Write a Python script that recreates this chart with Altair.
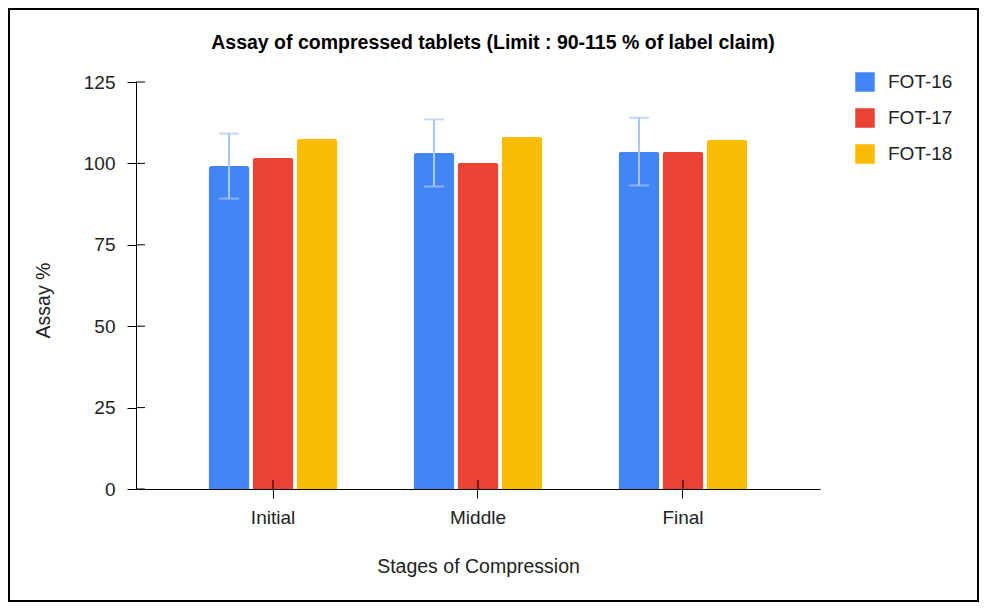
import altair as alt
import pandas as pd

stages = ["Initial", "Middle", "Final"]
series = ["FOT-16", "FOT-17", "FOT-18"]
fot16 = [99.2, 103.2, 103.6]
fot17 = [101.7, 100.2, 103.6]
fot18 = [107.6, 108.2, 107.2]
err16 = [10.0, 10.3, 10.4]
y_ticks = [0, 25, 50, 75, 100, 125]
colors = ["#4285f4", "#ea4335", "#fbbc04"]

rows = []
for i, s in enumerate(stages):
    for name, vals in zip(series, [fot16, fot17, fot18]):
        rows.append({"stage": s, "series": name, "value": vals[i]})
bars_df = pd.DataFrame(rows)
err_df = pd.DataFrame({
    "stage": stages,
    "series": ["FOT-16"] * 3,
    "lo": [v - e for v, e in zip(fot16, err16)],
    "hi": [v + e for v, e in zip(fot16, err16)],
})
ticks_df = pd.DataFrame({"v": y_ticks})
stage_df = pd.DataFrame({"stage": stages})

W, H = 684, 407
FONT = "Liberation Sans"

xscale = alt.Scale(domain=stages, paddingInner=0.371, paddingOuter=0.354)
xoff = alt.Scale(domain=series, paddingInner=0.07, paddingOuter=0)
yscale = alt.Scale(domain=[0, 125], nice=False)

x_enc = alt.X("stage:N", scale=xscale, sort=stages,
              axis=alt.Axis(title="Stages of Compression", labelAngle=0,
                            bandPosition=0.5, tickSize=9, tickColor="#000",
                            domainColor="#000", labelPadding=10,
                            titlePadding=30))
y_enc = alt.Y("value:Q", scale=yscale,
              axis=alt.Axis(title="Assay %", values=y_ticks, grid=False,
                            tickSize=9, tickColor="#000", domainColor="#000",
                            labelPadding=12, titlePadding=30, titleY=218))

bars = alt.Chart(bars_df).mark_bar(
    cornerRadiusTopLeft=3, cornerRadiusTopRight=3
).encode(
    x=x_enc,
    xOffset=alt.XOffset("series:N", scale=xoff, sort=series),
    y=y_enc,
    color=alt.Color("series:N", scale=alt.Scale(domain=series, range=colors),
                    legend=alt.Legend(title=None, orient="none", legendX=719,
                                      legendY=-10, symbolType="square",
                                      symbolSize=380, symbolStrokeWidth=0,
                                      labelFontSize=19, labelOffset=13,
                                      rowPadding=16, labelColor="#222",
                                      labelFont=FONT)),
)

err_color = "#a8c7fa"
err_rule = alt.Chart(err_df).mark_rule(color=err_color, strokeWidth=2).encode(
    x=alt.X("stage:N", scale=xscale, sort=stages),
    xOffset=alt.XOffset("series:N", scale=xoff, sort=series),
    y=alt.Y("lo:Q", scale=yscale),
    y2="hi:Q",
)
cap_lo = alt.Chart(err_df).mark_tick(color=err_color, thickness=2, size=20,
                                     orient="horizontal").encode(
    x=alt.X("stage:N", scale=xscale, sort=stages),
    xOffset=alt.XOffset("series:N", scale=xoff, sort=series),
    y=alt.Y("lo:Q", scale=yscale),
)
cap_hi = alt.Chart(err_df).mark_tick(color=err_color, thickness=2, size=20,
                                     orient="horizontal").encode(
    x=alt.X("stage:N", scale=xscale, sort=stages),
    xOffset=alt.XOffset("series:N", scale=xoff, sort=series),
    y=alt.Y("hi:Q", scale=yscale),
)

ytick_in = alt.Chart(ticks_df).mark_rule(color="#000", strokeWidth=1).encode(
    y=alt.Y("v:Q", scale=yscale),
    x=alt.value(0), x2=alt.value(9),
)
xtick_in = alt.Chart(stage_df).mark_rule(color="#000", strokeWidth=1).encode(
    x=alt.X("stage:N", scale=xscale, sort=stages, bandPosition=0.5),
    y=alt.value(H), y2=alt.value(H - 9),
)

frame = alt.Chart(pd.DataFrame({"a": [0]})).mark_rect(
    filled=False, stroke="#000", strokeWidth=2
).encode(
    x=alt.value(-127), x2=alt.value(842),
    y=alt.value(-73), y2=alt.value(519),
)

chart = alt.layer(bars, err_rule, cap_lo, cap_hi, ytick_in, xtick_in, frame).properties(
    width=W, height=H,
    background="white",
    title=alt.TitleParams("Assay of compressed tablets (Limit : 90-115 % of label claim)",
                          fontSize=19.5, font=FONT, fontWeight="bold", color="#000",
                          anchor="middle", frame="group", dx=15, offset=-45),
    autosize=alt.AutoSizeParams(type="none"),
    padding={"left": 128, "top": 74, "right": 159, "bottom": 113},
).configure_view(stroke=None).configure_axis(
    labelFont=FONT, titleFont=FONT, labelFontSize=19, titleFontSize=19.5,
    labelColor="#222", titleColor="#222", titleFontWeight="normal",
)

chart.save("out.html", embed_options={"renderer": "svg", "actions": False})
